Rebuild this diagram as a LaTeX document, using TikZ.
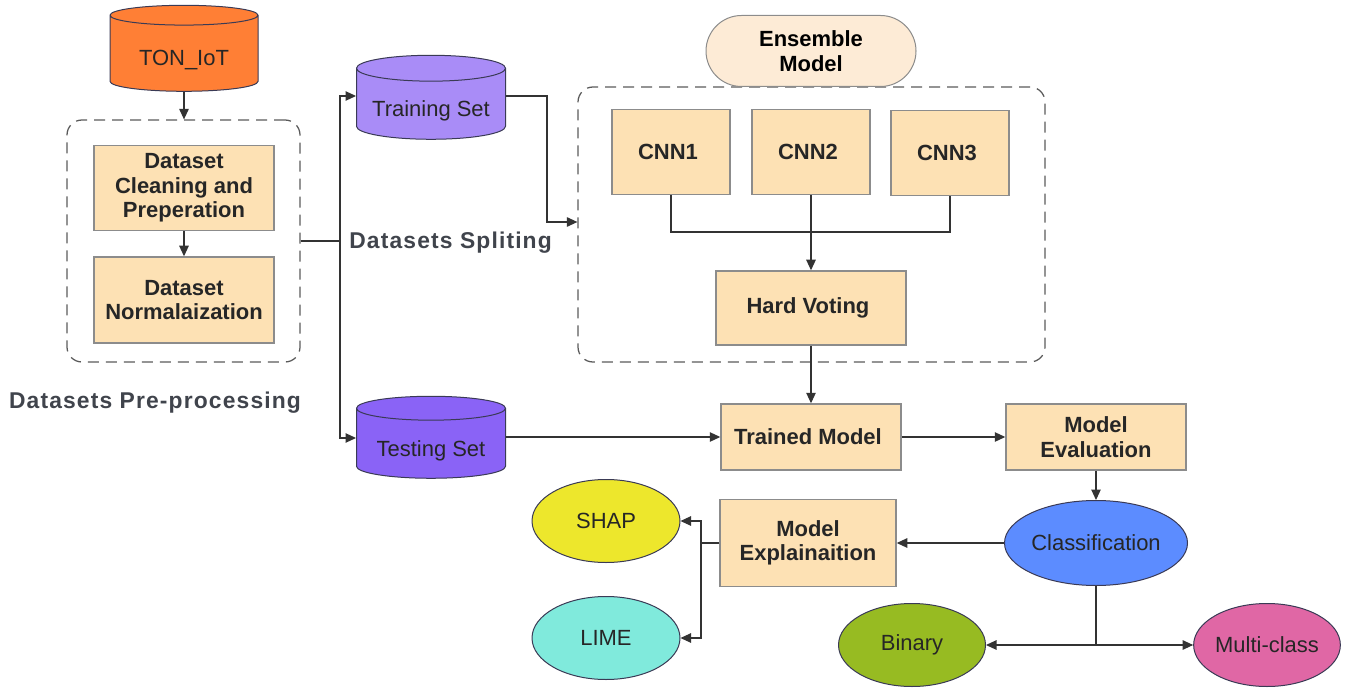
\documentclass[tikz,border=0pt]{standalone}
\usepackage{fontspec}
\setmainfont{Liberation Sans}
\usetikzlibrary{shapes.geometric,shapes.misc,arrows.meta}

\definecolor{boxfill}{HTML}{FDE1B4}
\definecolor{pillfill}{HTML}{FDEBD6}
\definecolor{boxline}{HTML}{8C8C8C}
\definecolor{blobline}{HTML}{3A3A55}
\definecolor{linkc}{HTML}{333333}
\definecolor{groupc}{HTML}{5A5A5A}
\definecolor{labelc}{HTML}{40444C}
\definecolor{tonfill}{HTML}{FF7F35}
\definecolor{trainfill}{HTML}{A98CF7}
\definecolor{testfill}{HTML}{8A63F6}
\definecolor{shapfill}{HTML}{EDE72C}
\definecolor{limefill}{HTML}{80EADC}
\definecolor{binfill}{HTML}{97BB22}
\definecolor{multifill}{HTML}{E067A5}
\definecolor{classfill}{HTML}{5C8CFF}

\tikzset{
  box/.style={draw=boxline, fill=boxfill, line width=0.03cm, font=\bfseries,
    text=black!85, align=center, inner sep=0pt},
  blob/.style={ellipse, draw=blobline, line width=0.02cm, text=black!85,
    inner sep=0pt, minimum width=2.96cm, minimum height=1.66cm},
  dbase/.style={cylinder, shape border rotate=90, aspect=0.22, draw=blobline,
    line width=0.02cm, text=black!85, inner sep=0pt, text height=0.60cm, text depth=0.1cm},
  group/.style={draw=groupc, line width=0.025cm, dash pattern=on 0.22cm off 0.14cm,
    rounded corners=0.3cm, inner sep=0pt},
  tag/.style={font=\bfseries\addfontfeature{LetterSpace=5}\fontsize{13}{15}\selectfont,
    text=labelc, inner sep=0pt},
  link/.style={draw=linkc, line width=0.022cm},
  arr/.style={link, -{Triangle[length=0.21cm,width=0.19cm]}},
}

\begin{document}
\begin{tikzpicture}
                    \useasboundingbox (0,0) rectangle (27.020000,13.760000);
                    {\fontsize{12.5}{14}\selectfont

                    % Marking group boxes
                    \node [group, minimum width=4.660000cm, minimum height=4.840000cm] (prep) at (3.670000,8.940000) {};%
                    \node [group, minimum width=9.340000cm, minimum height=5.500000cm] (ens) at (16.230000,9.270000) {};%

                    % Marking source TON_IoT
                    \node [dbase, fill=tonfill, minimum width=2.960000cm, minimum height=1.720000cm] (ton) at (3.680000,12.690000) { TON\_IoT };%

                    % Marking pre-processing steps
                    \node [box, minimum width=3.600000cm, minimum height=1.700000cm] (clean) at (3.680000,10.000000) { Dataset\\Cleaning and\\Preperation };%
                    \node [box, minimum width=3.600000cm, minimum height=1.720000cm] (norm) at (3.680000,7.760000) { Dataset\\Normalaization };%
                    \node [tag] (preptag) at (3.100000,5.700000) { Datasets Pre-processing };%

                    % Marking split sets
                    \node [dbase, fill=trainfill, minimum width=2.980000cm, minimum height=1.680000cm] (train) at (8.620000,11.680000) { Training Set };%
                    \node [dbase, fill=testfill, minimum width=2.980000cm, minimum height=1.640000cm] (test) at (8.620000,4.890000) { Testing Set };%
                    \node [tag, anchor=west] (splittag) at (6.980000,8.900000) { Datasets Spliting };%

                    % Marking ensemble
                    \node [rounded rectangle, draw=boxline, fill=pillfill, line width=0.02cm, font=\bfseries, align=center,
                           minimum width=4.200000cm, minimum height=1.420000cm, inner sep=0pt] (enstag) at (16.220000,12.740000) { Ensemble\\Model };%
                    \node [box, minimum width=2.360000cm, minimum height=1.700000cm] (cnn1) at (13.420000,10.720000) { CNN1 };%
                    \node [box, minimum width=2.360000cm, minimum height=1.700000cm] (cnn2) at (16.220000,10.720000) { CNN2 };%
                    \node [box, minimum width=2.360000cm, minimum height=1.700000cm] (cnn3) at (19.000000,10.700000) { CNN3 };%
                    \node [box, minimum width=3.800000cm, minimum height=1.480000cm] (vote) at (16.220000,7.600000) { Hard Voting };%

                    % Marking model and evaluation
                    \node [box, minimum width=3.600000cm, minimum height=1.320000cm] (trained) at (16.220000,5.020000) { Trained Model };%
                    \node [box, minimum width=3.600000cm, minimum height=1.320000cm] (eval) at (21.920000,5.020000) { Model\\Evaluation };%
                    \node [blob, fill=classfill, minimum width=3.640000cm, minimum height=1.700000cm] (classif) at (21.920000,2.900000) { Classification };%
                    \node [box, minimum width=3.520000cm, minimum height=1.740000cm] (explain) at (16.160000,2.900000) { Model\\Explainaition };%

                    % Marking leaves
                    \node [blob, fill=shapfill] (shap) at (12.120000,3.340000) { SHAP };%
                    \node [blob, fill=limefill] (lime) at (12.120000,1.000000) { LIME };%
                    \node [blob, fill=binfill, minimum width=2.940000cm] (binary) at (18.240000,0.860000) { Binary };%
                    \node [blob, fill=multifill, minimum width=2.900000cm] (multi) at (25.340000,0.860000) { Multi-class };%

                    % Marking joints
                    \coordinate (split) at (6.800000,8.940000);%
                    \coordinate (tjoin) at (10.940000,9.320000);%
                    \coordinate (vjoin) at (16.220000,9.120000);%
                    \coordinate (xjoin) at (14.020000,2.900000);%
                    \coordinate (cjoin) at (21.920000,0.860000);%

                    % Drawing segment TON_IoT prep
                    \draw [arr] (ton.south) -- (ton.south |- prep.north);%
                    \draw [arr] (clean) -- (norm);%

                    % Drawing segment prep split
                    \draw [link] (prep.east) -- (split);%
                    \draw [arr] (split) |- ([yshift=0.16cm]train.west);%
                    \draw [arr] (split) |- ([yshift=0.11cm]test.west);%

                    % Drawing segment train ensemble
                    \draw [arr] ([yshift=0.16cm]train.east) -| (tjoin) -- (tjoin -| ens.west);%

                    % Drawing segment CNN vote
                    \draw [link] (cnn1.south) |- (vjoin);%
                    \draw [link] (cnn3.south) |- (vjoin);%
                    \draw [arr] (cnn2.south) -- (vote.north);%

                    % Drawing segment vote trained
                    \draw [arr] (vote) -- (trained);%
                    \draw [arr] (test.east |- trained.west) -- (trained.west);%
                    \draw [arr] (trained) -- (eval);%
                    \draw [arr] (eval) -- (classif);%
                    \draw [arr] (classif) -- (explain);%

                    % Drawing segment explain leaves
                    \draw [link] (explain.west) -- (xjoin);%
                    \draw [arr] (xjoin) |- (shap.east);%
                    \draw [arr] (xjoin) |- (lime.east);%

                    % Drawing segment classification leaves
                    \draw [link] (classif.south) -- (cjoin);%
                    \draw [arr] (cjoin) -- (binary.east);%
                    \draw [arr] (cjoin) -- (multi.west);%
                    }
                    \end{tikzpicture}
\end{document}
